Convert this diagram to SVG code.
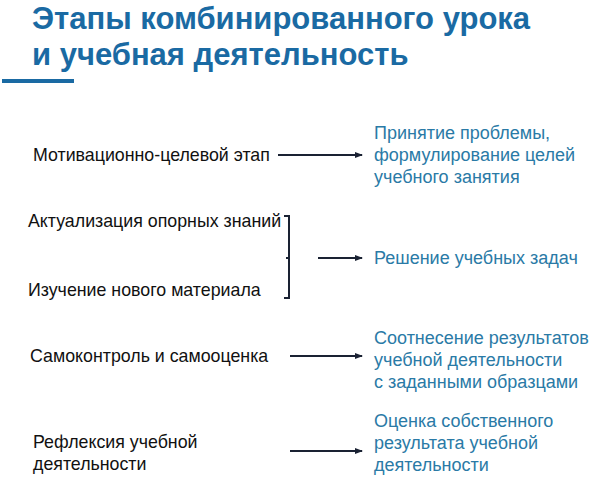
<svg xmlns="http://www.w3.org/2000/svg" width="600" height="499" viewBox="0 0 600 499">
<style>
.t{font-family:"Liberation Sans",Arial,sans-serif;font-weight:bold;font-size:31px;fill:#1a6aa3}
.l{font-family:"Liberation Sans",Arial,sans-serif;font-size:17.8px;fill:#111}
.r{font-family:"Liberation Sans",Arial,sans-serif;font-size:18px;fill:#2a7aa6}
.c{stroke:#1a2233;stroke-width:2;fill:none}
</style>
<defs><marker id="a" markerWidth="8" markerHeight="6" refX="7" refY="3" orient="auto" markerUnits="userSpaceOnUse"><path d="M0,0L8,3L0,6z" fill="#1a2233"/></marker></defs>
<rect width="600" height="499" fill="#fff"/>
<g id="title">
<text class="t" x="32" y="29">Этапы комбинированного урока</text>
<text class="t" x="32" y="65">и учебная деятельность</text>
<rect x="2" y="79" width="72" height="4" fill="#1a6aa3"/>
</g>
<g id="n1"><text class="l" x="33" y="161">Мотивационно-целевой этап</text></g>
<g id="n2"><text class="l" x="28" y="227">Актуализация опорных знаний</text></g>
<g id="n3"><text class="l" x="28" y="296">Изучение нового материала</text></g>
<g id="n4"><text class="l" x="30" y="362">Самоконтроль и самооценка</text></g>
<g id="n5"><text class="l" x="33" y="448">Рефлексия учебной</text><text class="l" x="33" y="470">деятельности</text></g>
<g id="r1"><text class="r" x="374" y="139">Принятие проблемы,</text><text class="r" x="374" y="161">формулирование целей</text><text class="r" x="374" y="183">учебного занятия</text></g>
<g id="r2"><text class="r" x="374" y="264">Решение учебных задач</text></g>
<g id="r3"><text class="r" x="374" y="344">Соотнесение результатов</text><text class="r" x="374" y="366">учебной  деятельности</text><text class="r" x="374" y="388">с заданными образцами</text></g>
<g id="r4"><text class="r" x="374" y="427">Оценка собственного</text><text class="r" x="374" y="449">результата учебной</text><text class="r" x="374" y="471">деятельности</text></g>
<g id="connectors">
<path class="c" d="M284,216H289V298H284M289,258H286"/>
<line class="c" x1="278" y1="155" x2="362" y2="155" marker-end="url(#a)"/>
<line class="c" x1="318" y1="258" x2="362" y2="258" marker-end="url(#a)"/>
<line class="c" x1="290" y1="356" x2="362" y2="356" marker-end="url(#a)"/>
<line class="c" x1="290" y1="451" x2="362" y2="451" marker-end="url(#a)"/>
</g>
</svg>
